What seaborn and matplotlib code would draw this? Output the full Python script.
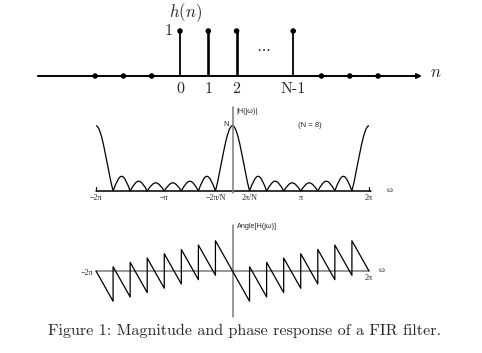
import matplotlib
matplotlib.use("Agg")
import matplotlib.pyplot as plt
import numpy as np
import pandas as pd
import seaborn as sns
from matplotlib.path import Path
from matplotlib.patches import PathPatch

# --- impulse response h(n) ---
stem_n = [0, 1, 2, 4]
stem_h = [1, 1, 1, 1]
stem_labels = ['0', '1', '2', 'N-1']
zero_n = [-3, -2, -1, 5, 6, 7]

# --- magnitude |H(jw)|, N = 8 (w in units of pi) ---
N = 8
mag_zeros = [-1.75, -1.5, -1.25, -1.0, -0.75, -0.5, -0.25,
             0.25, 0.5, 0.75, 1.0, 1.25, 1.5, 1.75]
side_peaks = [1.8, 1.2, 1.0, 1.0, 1.2, 1.8]
main_peak = 8

# --- phase Angle[H(jw)] (sawtooth, radians) ---
band_edges = [-2, -1.75, -1.5, -1.25, -1, -0.75, -0.5, -0.25, 0,
              0.25, 0.5, 0.75, 1, 1.25, 1.5, 1.75, 2]
tooth_top = [0.0, 0.39, 0.79, 1.18, 1.57, 1.96, 2.36, 2.75]
tooth_bottom = [-2.75, -2.36, -1.96, -1.57, -1.18, -0.79, -0.39, 0.0]

mag_ticks = [-2, -1, -0.25, 0.25, 1, 2]
mag_tick_labels = ['\u22122\u03c0', '\u2212\u03c0', '\u22122\u03c0/N', '2\u03c0/N', '\u03c0', '2\u03c0']

sns.set_style("white")
plt.rcParams['mathtext.fontset'] = 'cm'
plt.rcParams['font.family'] = ['cmr10', 'DejaVu Serif']

W, H = 482, 353
fig = plt.figure(figsize=(W / 100, H / 100), dpi=100)


def px_axes(top, bottom):
    return fig.add_axes([0, 1 - bottom / H, 1, (bottom - top) / H])


# ---------------- top: h(n) ----------------
ax1 = px_axes(0, 100)
sx, x0, base, sy = 28.3, 180, 76, 45
ax1.set_xlim(-x0 / sx, (W - x0) / sx)
ax1.set_ylim((base - 100) / sy, base / sy)
ax1.set_axis_off()

ax1.annotate('', xy=(8.55, 0), xytext=(-5.02, 0),
             arrowprops=dict(arrowstyle='-|>', color='black', lw=1.4,
                             mutation_scale=7, shrinkA=0, shrinkB=0))
ax1.vlines(stem_n, 0, stem_h, colors='black', lw=[1.3, 1.9, 1.9, 1.3])
dots = pd.DataFrame({'n': stem_n + zero_n, 'h': stem_h + [0] * len(zero_n)})
sns.scatterplot(data=dots, x='n', y='h', ax=ax1, color='black', s=16,
                edgecolor='none', legend=False, zorder=3)
for n, lab in zip(stem_n, stem_labels):
    ax1.text(n, -0.29, lab, ha='center', va='center', fontsize=11.5)
ax1.text(-0.42, 0.99, '1', ha='center', va='center', fontsize=11.5)
ax1.text(0.18, 1.4, r'$h(n)$', ha='center', va='center', fontsize=12)
ax1.text(2.93, 0.62, r'$\cdots$', ha='center', va='center', fontsize=11)
ax1.text(9.05, 0.08, r'$n$', ha='center', va='center', fontsize=12)

# ---------------- middle: magnitude ----------------
cx, kx = 232.5, 21.72
ax2 = px_axes(100, 210)
mb, my = 191, 8.16
ax2.set_xlim(-cx / kx, (W - cx) / kx)
ax2.set_ylim((mb - 210) / my, (mb - 100) / my)
ax2.set_axis_off()

pi = np.pi
a_s, b_s = 0.35, 0.35


def fall(p, z, h):
    w = z - p
    return [(p + a_s * w, h), (z - b_s * w, b_s * h), (z, 0)]


def rise(z, p, h):
    w = p - z
    return [(z + b_s * w, b_s * h), (p - a_s * w, h), (p, h)]


def arch(a, b, h):
    half = (b - a) / 2
    m = a + half
    return [(a + 0.3343 * half, 0.5251 * h), (a + 0.6656 * half, h), (m, h),
            (m + 0.3344 * half, h), (m + 0.6657 * half, 0.5251 * h), (b, 0)]


zs = [z * pi for z in mag_zeros]
verts = [(-2 * pi, main_peak)]
verts += fall(-2 * pi, zs[0], main_peak)
for i in range(6):
    verts += arch(zs[i], zs[i + 1], side_peaks[i])
verts += rise(zs[6], 0, main_peak)
verts += fall(0, zs[7], main_peak)
for i in range(6):
    verts += arch(zs[7 + i], zs[8 + i], side_peaks[i])
verts += rise(zs[13], 2 * pi, main_peak)
codes = [Path.MOVETO] + [Path.CURVE4] * (len(verts) - 1)
ax2.add_patch(PathPatch(Path(verts, codes), fill=False, lw=0.9, color='black'))

ax2.plot([-2 * pi, 2 * pi + 0.1], [0, 0], color='black', lw=1.1)
ax2.plot([-2 * pi, -2 * pi], [0, 0.5], color='black', lw=0.8)
ax2.plot([2 * pi, 2 * pi], [0, 0.5], color='black', lw=0.8)
ax2.plot([0, 0], [-0.3, 10.3], color='#7a7a7a', lw=1.1)
for t, lab in zip(mag_ticks, mag_tick_labels):
    ax2.text(t * pi, -0.9, lab, ha='center', va='center', fontsize=5.8,
             family='Liberation Serif')
ax2.text(7.25, 0.1, '\u03c9', ha='center', va='center', fontsize=6.5,
         family='Liberation Serif')
ax2.text(-0.15, 8.1, 'N', ha='right', va='center', fontsize=5.5,
         family='Liberation Sans')
ax2.text(0.2, 9.8, '|H(j\u03c9)|', ha='left', va='center', fontsize=5.2,
         family='Liberation Sans')
ax2.text(3.57, 8.0, '(N = 8)', ha='center', va='center', fontsize=5.5,
         family='Liberation Sans')

# ---------------- bottom: phase ----------------
ax3 = px_axes(210, 320)
pb, py = 271, 11.0
ax3.set_xlim(-cx / kx, (W - cx) / kx)
ax3.set_ylim((pb - 320) / py, (pb - 210) / py)
ax3.set_axis_off()

ax3.plot([-2 * pi, 2 * pi], [0, 0], color='#7a7a7a', lw=1.1)
ax3.plot([0, 0], [-4.2, 4.2], color='#7a7a7a', lw=1.1)
px_, py_ = [], []
for i in range(16):
    px_ += [band_edges[i] * pi, band_edges[i + 1] * pi]
    py_ += [tooth_top[i % 8], tooth_bottom[i % 8]]
phase = pd.DataFrame({'w': px_, 'ang': py_})
sns.lineplot(data=phase, x='w', y='ang', ax=ax3, color='black', lw=0.9,
             estimator=None, sort=False)
ax3.set_axis_off()
ax3.text(0.2, 4.0, 'Angle[H(j\u03c9)]', ha='left', va='center', fontsize=5.2,
         family='Liberation Sans')
ax3.text(-6.7, -0.2, '\u22122\u03c0', ha='center', va='center', fontsize=5.8,
         family='Liberation Serif')
ax3.text(2 * pi, -0.65, '2\u03c0', ha='center', va='center', fontsize=5.8,
         family='Liberation Serif')
ax3.text(6.85, 0.1, '\u03c9', ha='center', va='center', fontsize=6.5,
         family='Liberation Serif')

fig.text(0.508, 1 - 331 / H, 'Figure 1: Magnitude and phase response of a FIR filter.',
         ha='center', va='center', fontsize=11.6)

fig.savefig('out.png', dpi=100)
